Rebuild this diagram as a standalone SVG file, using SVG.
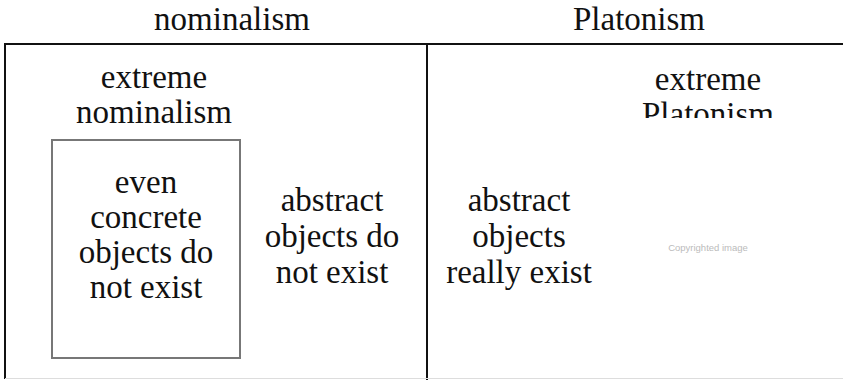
<svg xmlns="http://www.w3.org/2000/svg" width="843" height="380" viewBox="0 0 843 380">
<style>
text.t{font-family:'Liberation Serif','DejaVu Serif',serif;font-size:33px;fill:#111;text-anchor:middle}
.frame{stroke:#111;stroke-width:2;fill:none}
.inner{stroke:#777;stroke-width:2;fill:none}
text.note{font-family:'Liberation Sans',Arial,sans-serif;font-size:9.5px;fill:#bbb;text-anchor:middle}
</style>
<defs>
<clipPath id="clipP"><rect x="600" y="50" width="243" height="68"/></clipPath>
</defs>
<rect width="843" height="380" fill="#fff"/>
<g id="connectors">
<line class="frame" x1="4" y1="44" x2="843" y2="44"/>
<line class="frame" x1="5" y1="44" x2="5" y2="379"/>
<line class="frame" x1="427" y1="44" x2="427" y2="380"/>
<line x1="5" y1="378.5" x2="843" y2="378.5" stroke="#ddd" stroke-width="1"/>
</g>
<g id="heading-nominalism"><text class="t" font-family="Liberation Serif, serif" x="232" y="30">nominalism</text></g>
<g id="heading-platonism"><text class="t" font-family="Liberation Serif, serif" x="639" y="30">Platonism</text></g>
<g id="extreme-nominalism">
<text class="t" x="154" y="88">extreme</text>
<text class="t" x="154" y="123">nominalism</text>
</g>
<g id="concrete-box">
<rect class="inner" x="52" y="140" width="188" height="218"/>
<text class="t" x="146" y="193">even</text>
<text class="t" x="146" y="228">concrete</text>
<text class="t" x="146" y="263">objects do</text>
<text class="t" x="146" y="298">not exist</text>
</g>
<g id="abstract-not-exist">
<text class="t" x="332" y="211">abstract</text>
<text class="t" x="332" y="247">objects do</text>
<text class="t" x="332" y="283">not exist</text>
</g>
<g id="abstract-exist">
<text class="t" x="519" y="211">abstract</text>
<text class="t" x="519" y="247">objects</text>
<text class="t" x="519" y="283">really exist</text>
</g>
<g id="extreme-platonism" clip-path="url(#clipP)">
<text class="t" x="708" y="90">extreme</text>
<text class="t" x="708" y="125">Platonism</text>
</g>
<g id="copyright"><text class="note" x="708" y="251">Copyrighted image</text></g>
</svg>
